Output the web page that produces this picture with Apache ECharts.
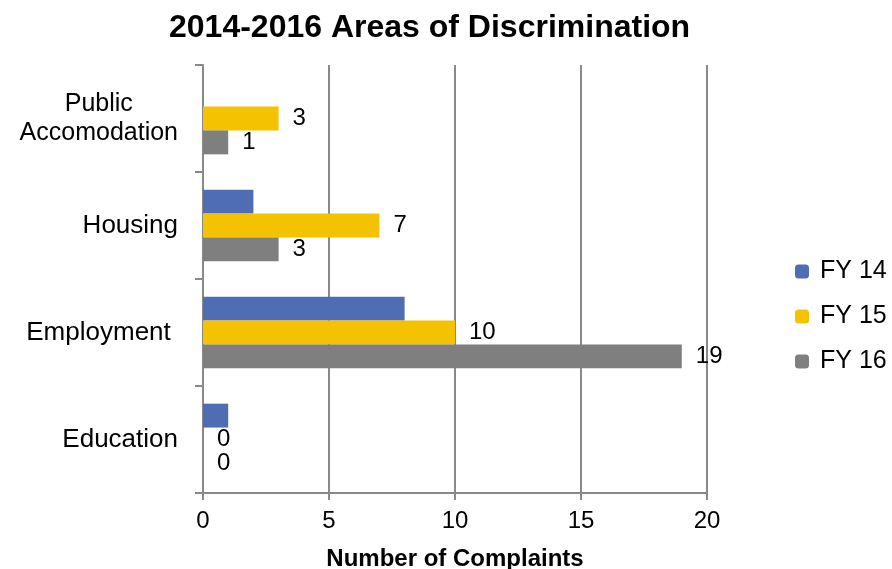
<!DOCTYPE html>
<html>
<head>
<meta charset="utf-8">
<script src="https://cdn.jsdelivr.net/npm/echarts@6/dist/echarts.min.js"></script>
<style>
  html, body { margin: 0; padding: 0; background: #fff; }
  #main { width: 892px; height: 569px; }
</style>
</head>
<body>
<div id="main"></div>
<script>
// categories listed top to bottom (y axis is inverted)
var categories = ['Public\nAccomodation', 'Housing', 'Employment ', 'Education'];
var seriesNames = ['FY 14', 'FY 15', 'FY 16'];
var fy14 = [0, 2, 8, 1];
var fy15 = [3, 7, 10, 0];
var fy16 = [1, 3, 19, 0];
var xTicks = [0, 5, 10, 15, 20];

var colors = ['#4f6db2', '#f5c200', '#7f7f7f'];
var font = '"Liberation Sans", Arial, sans-serif';
var axisGray = '#898989';

var chart = echarts.init(document.getElementById('main'));

function barSeries(name, data, color, showLabel) {
  return {
    name: name,
    type: 'bar',
    data: data,
    barGap: '0%',
    barCategoryGap: '33%',
    itemStyle: { color: color },
    label: {
      show: showLabel,
      position: 'right',
      distance: 14,
      color: '#000',
      fontSize: 24,
      fontFamily: font
    }
  };
}

var option = {
  animation: false,
  color: colors,
  title: {
    text: '2014-2016 Areas of Discrimination',
    left: 164,
    top: 7,
    textStyle: { fontSize: 32, fontWeight: 'bold', color: '#000', fontFamily: font }
  },
  legend: {
    orient: 'vertical',
    left: 790,
    top: 254,
    itemWidth: 14,
    itemHeight: 14,
    itemGap: 20,
    data: seriesNames,
    textStyle: { fontSize: 25, color: '#000', fontFamily: font, padding: [0, 0, 0, 6] }
  },
  grid: { left: 203, right: 185, top: 65, bottom: 76, outerBoundsMode: 'none' },
  xAxis: {
    type: 'value',
    min: xTicks[0],
    max: xTicks[xTicks.length - 1],
    interval: xTicks[1] - xTicks[0],
    name: 'Number of Complaints',
    nameLocation: 'middle',
    nameGap: 54,
    nameTextStyle: { fontSize: 24, fontWeight: 'bold', color: '#000', fontFamily: font },
    axisLine: { show: true, lineStyle: { color: axisGray, width: 2 } },
    axisTick: { show: true, length: 7, lineStyle: { color: axisGray, width: 2 } },
    axisLabel: { fontSize: 24, color: '#000', fontFamily: font, margin: 16 },
    splitLine: { show: true, lineStyle: { color: axisGray, width: 2 } }
  },
  yAxis: {
    type: 'category',
    inverse: true,
    data: categories,
    axisLine: { show: true, lineStyle: { color: axisGray, width: 2 } },
    axisTick: { show: true, length: 8, lineStyle: { color: axisGray, width: 2 } },
    axisLabel: {
      fontSize: 26,
      color: '#000',
      fontFamily: font,
      margin: 25,
      formatter: function (v) {
        if (v.indexOf('\n') < 0) return v;
        return v.split('\n').map(function (s) { return '{c|' + s + '}'; }).join('\n');
      },
      rich: {
        c: { align: 'center', fontSize: 25, color: '#000', fontFamily: font, lineHeight: 29 }
      }
    }
  },
  series: [
    barSeries(seriesNames[0], fy14, colors[0], false),
    barSeries(seriesNames[1], fy15, colors[1], true),
    barSeries(seriesNames[2], fy16, colors[2], true)
  ]
};

chart.setOption(option);
</script>
</body>
</html>
